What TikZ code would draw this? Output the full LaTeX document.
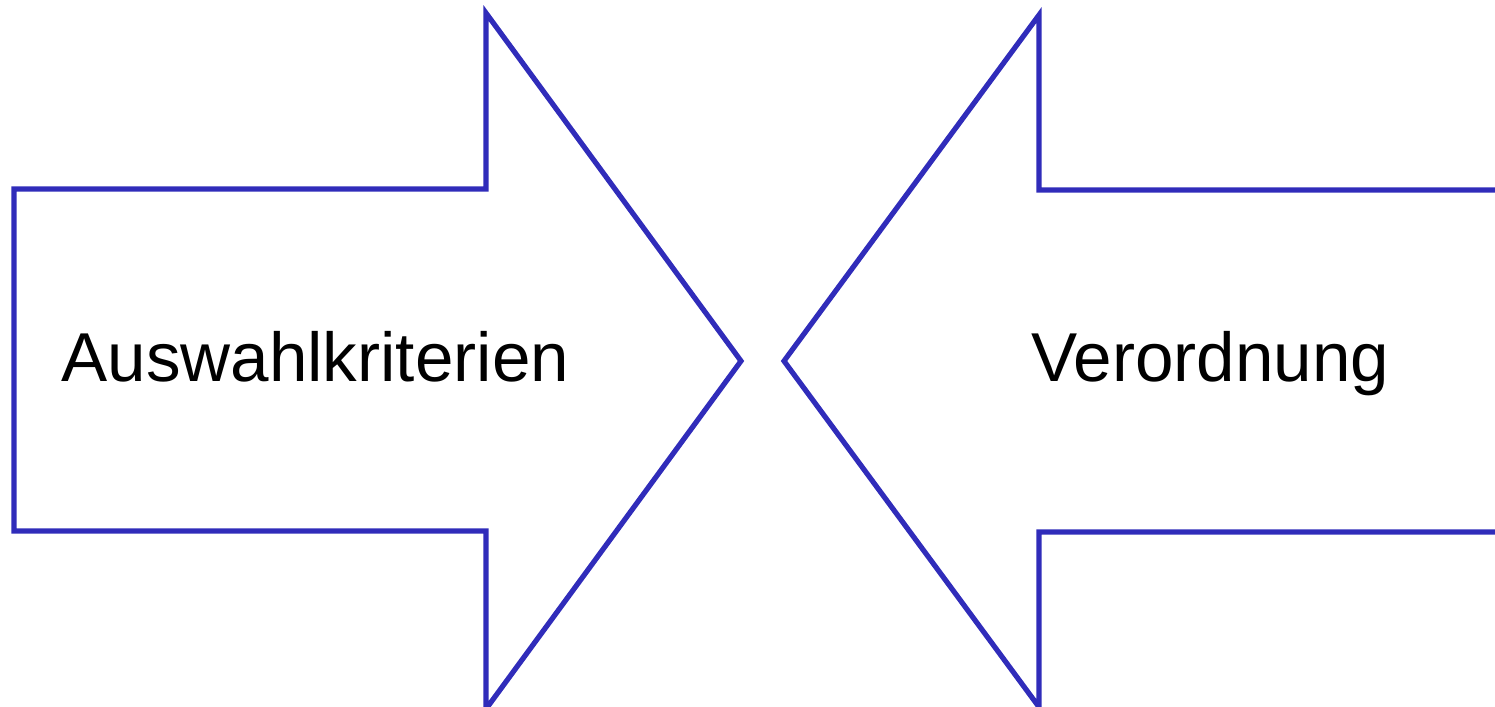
\documentclass[tikz,border=0pt]{standalone}
\usepackage{fontspec}
\setmainfont{Liberation Sans}
\definecolor{arrowblue}{RGB}{48,44,186}
\begin{document}
\begin{tikzpicture}[x=0.5pt,y=-0.5pt,
  arrowshape/.style={draw=arrowblue,line width=2.6pt,line join=miter},
  label/.style={font=\fontsize{34.6}{40}\selectfont,inner sep=0pt,anchor=base west}]
\useasboundingbox (0,0) rectangle (1495,707);
\draw[arrowshape] (14,189) -- (486,189) -- (486,13) -- (741,361) -- (486,709) -- (486,531) -- (14,531) -- cycle;
\draw[arrowshape] (1500,190) -- (1039,190) -- (1039,15) -- (784,361) -- (1039,707) -- (1039,532) -- (1500,532);
\node[label] (a) at (61,381) {Auswahlkriterien};
\node[label] (v) at (1031,381) {Verordnung};
\end{tikzpicture}
\end{document}
